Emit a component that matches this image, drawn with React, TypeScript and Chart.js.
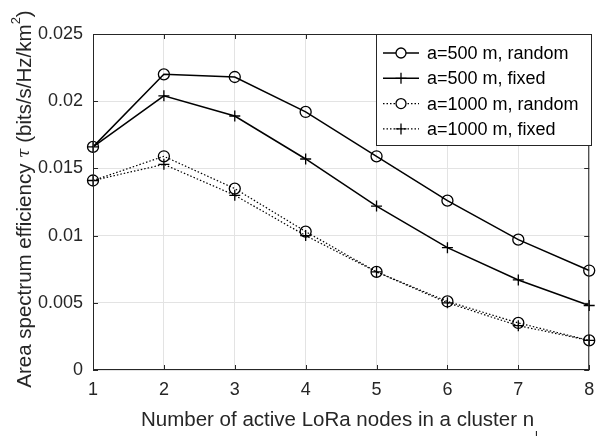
import React, { useEffect, useRef } from "react";
import { Chart, registerables } from "chart.js";

Chart.register(...registerables);

const xValues = [1, 2, 3, 4, 5, 6, 7, 8];
const r500Random = [0.0166, 0.022, 0.0218, 0.0192, 0.0159, 0.0126, 0.0097, 0.0074];
const r500Fixed = [0.0166, 0.0204, 0.0189, 0.0157, 0.0122, 0.0091, 0.0067, 0.0048];
const r1000Random = [0.0141, 0.0159, 0.0135, 0.0103, 0.0073, 0.0051, 0.0035, 0.0022];
const r1000Fixed = [0.0141, 0.0153, 0.013, 0.01, 0.0073, 0.005, 0.0033, 0.0022];
const seriesLabels = ["a=500 m, random", "a=500 m, fixed", "a=1000 m, random", "a=1000 m, fixed"];
const yTicks = [0, 0.005, 0.01, 0.015, 0.02, 0.025];
const xTitle = "Number of active LoRa nodes in a cluster n";
const yTitleMain = "Area spectrum efficiency ";
const yTitleTau = "τ";
const yTitleUnit = " (bits/s/Hz/km";

const FONT = "'Liberation Sans', Arial, sans-serif";
const DOT = [1.5, 2];

const styles = [
  { dash: [] as number[], point: "circle", radius: 5.5 },
  { dash: [] as number[], point: "cross", radius: 5.5 },
  { dash: DOT, point: "circle", radius: 5.5 },
  { dash: DOT, point: "cross", radius: 5.5 },
];

const framePlugin = {
  id: "frame",
  afterDraw(chart: any) {
    const { ctx, chartArea: a, scales } = chart;
    ctx.save();
    ctx.strokeStyle = "#262626";
    ctx.lineWidth = 1;
    ctx.strokeRect(a.left + 0.5, a.top + 0.5, a.right - a.left - 1, a.bottom - a.top - 1);
    // inward ticks
    const tl = 5;
    ctx.beginPath();
    for (const v of xValues) {
      const px = Math.round(scales.x.getPixelForValue(v)) + 0.5;
      ctx.moveTo(px, a.bottom);
      ctx.lineTo(px, a.bottom - tl);
      ctx.moveTo(px, a.top);
      ctx.lineTo(px, a.top + tl);
    }
    for (const v of yTicks) {
      const py = Math.round(scales.y.getPixelForValue(v)) + 0.5;
      ctx.moveTo(a.left, py);
      ctx.lineTo(a.left + tl, py);
      ctx.moveTo(a.right, py);
      ctx.lineTo(a.right - tl, py);
    }
    ctx.stroke();

    // legend
    const lx = 376, ly = 34, lw = 215, lh = 111;
    ctx.fillStyle = "#ffffff";
    ctx.fillRect(lx, ly, lw, lh);
    ctx.strokeStyle = "#262626";
    ctx.strokeRect(lx + 0.5, ly + 0.5, lw, lh);
    ctx.font = `18px ${FONT}`;
    ctx.textBaseline = "middle";
    ctx.textAlign = "left";
    seriesLabels.forEach((lab, i) => {
      const y = ly + 19 + i * 25.3;
      const s = styles[i];
      ctx.strokeStyle = "#000";
      ctx.lineWidth = s.dash.length ? 1.2 : 1.5;
      ctx.setLineDash(s.dash);
      ctx.beginPath();
      ctx.moveTo(383, y);
      ctx.lineTo(419, y);
      ctx.stroke();
      ctx.setLineDash([]);
      ctx.lineWidth = 1.3;
      ctx.beginPath();
      if (s.point === "circle") {
        ctx.fillStyle = "#fff";
        ctx.arc(401, y, 5, 0, Math.PI * 2);
        ctx.fill();
        ctx.stroke();
      } else {
        ctx.moveTo(395.5, y);
        ctx.lineTo(406.5, y);
        ctx.moveTo(401, y - 5.5);
        ctx.lineTo(401, y + 5.5);
        ctx.stroke();
      }
      ctx.fillStyle = "#000";
      ctx.fillText(lab, 427, y + 1);
    });

    // y title
    ctx.save();
    ctx.translate(25, 199);
    ctx.rotate(-Math.PI / 2);
    ctx.fillStyle = "#262626";
    ctx.textBaseline = "middle";
    const fMain = `20.5px ${FONT}`;
    const fTau = `italic 17px 'DejaVu Serif', serif`;
    const fSup = `13px ${FONT}`;
    ctx.font = fMain;
    const w1 = ctx.measureText(yTitleMain).width;
    const w3 = ctx.measureText(yTitleUnit).width;
    const w5 = ctx.measureText(")").width;
    ctx.font = fTau;
    const w2 = ctx.measureText(yTitleTau).width;
    ctx.font = fSup;
    const w4 = ctx.measureText("2").width;
    const total = w1 + w2 + w3 + w4 + w5;
    let cx = -total / 2;
    ctx.textAlign = "left";
    ctx.font = fMain;
    ctx.fillText(yTitleMain, cx, 0);
    cx += w1;
    ctx.font = fTau;
    ctx.fillText(yTitleTau, cx, 0);
    cx += w2;
    ctx.font = fMain;
    ctx.fillText(yTitleUnit, cx, 0);
    cx += w3;
    ctx.font = fSup;
    ctx.fillText("2", cx, -9);
    cx += w4;
    ctx.font = fMain;
    ctx.fillText(")", cx, 0);
    ctx.restore();

    // x title
    ctx.fillStyle = "#262626";
    ctx.font = `20.5px ${FONT}`;
    ctx.textAlign = "left";
    ctx.textBaseline = "middle";
    const tw = ctx.measureText(xTitle).width;
    const tx = 141;
    ctx.fillText(xTitle, tx, 420);
    ctx.font = `13px ${FONT}`;
    ctx.fillText("l", tx + tw + 1, 436);
    ctx.restore();
  },
};

export default function App() {
  const ref = useRef<HTMLCanvasElement>(null);
  useEffect(() => {
    document.body.style.margin = "0";
    const datasets = [r500Random, r500Fixed, r1000Random, r1000Fixed].map((d, i) => ({
      label: seriesLabels[i],
      data: xValues.map((x, j) => ({ x, y: d[j] })),
      borderColor: "#000",
      backgroundColor: "rgba(0,0,0,0)",
      borderWidth: styles[i].dash.length ? 1.2 : 1.5,
      borderDash: styles[i].dash,
      pointStyle: styles[i].point,
      pointRadius: styles[i].radius,
      pointBorderWidth: 1.3,
      pointBorderColor: "#000",
      pointBackgroundColor: "rgba(0,0,0,0)",
      tension: 0,
      clip: false as any,
    }));
    const chart = new Chart(ref.current!, {
      type: "line",
      data: { datasets },
      options: {
        animation: false,
        responsive: false,
        layout: { padding: { top: 34, right: 5, left: 0, bottom: 0 } },
        plugins: { legend: { display: false }, tooltip: { enabled: false } },
        scales: {
          x: {
            type: "linear",
            min: 1,
            max: 8,
            afterFit: (s: any) => { s.height = 66; s.paddingLeft = 0; s.paddingRight = 0; },
            afterBuildTicks: (s: any) => { s.ticks = xValues.map((v) => ({ value: v })); },
            grid: { color: "#e3e3e3", drawTicks: false },
            border: { display: false },
            ticks: { color: "#262626", font: { family: FONT, size: 18 }, padding: 9, maxRotation: 0 },
          },
          y: {
            min: 0,
            max: 0.025,
            afterFit: (s: any) => { s.width = 93; s.paddingTop = 0; s.paddingBottom = 0; },
            afterBuildTicks: (s: any) => { s.ticks = yTicks.map((v) => ({ value: v })); },
            grid: { color: "#e3e3e3", drawTicks: false },
            border: { display: false },
            ticks: {
              color: "#262626",
              font: { family: FONT, size: 18 },
              padding: 10,
              callback: (v: any) => String(Number(Number(v).toFixed(3))),
            },
          },
        },
      },
      plugins: [framePlugin],
    });
    return () => chart.destroy();
  }, []);
  return (
    <div style={{ position: "absolute", left: 0, top: 0, width: 596, height: 436, background: "#fff" }}>
      <canvas ref={ref} width={596} height={436} />
    </div>
  );
}
